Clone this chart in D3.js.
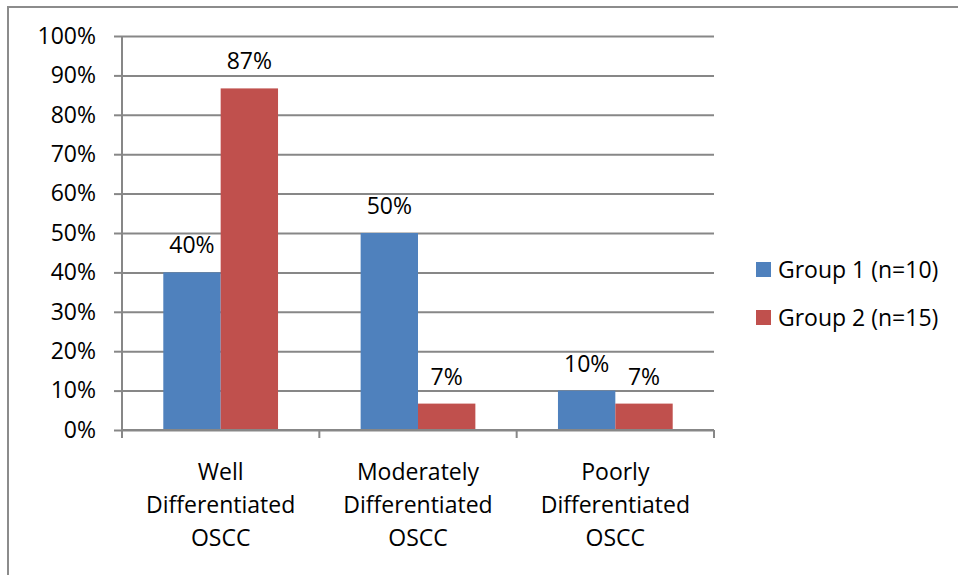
<!DOCTYPE html>
<html>
<head>
<meta charset="utf-8">
<script src="https://cdn.jsdelivr.net/npm/d3@7"></script>
<style>
  html, body { margin: 0; padding: 0; background: #fff; }
  svg { display: block; font-family: "Open Sans", sans-serif; }
</style>
</head>
<body>
<svg id="chart" width="958" height="575"></svg>
<script>
// Chart data
const categories = [
  ["Well", "Differentiated", "OSCC"],
  ["Moderately", "Differentiated", "OSCC"],
  ["Poorly", "Differentiated", "OSCC"]
];
const seriesNames = ["Group 1 (n=10)", "Group 2 (n=15)"];
const group1 = [0.40, 0.50, 0.10];
const group2 = [0.867, 0.067, 0.067];
const yTicks = [0, 0.1, 0.2, 0.3, 0.4, 0.5, 0.6, 0.7, 0.8, 0.9, 1.0];
const colors = ["#4F81BD", "#C0504D"];

const svg = d3.select("#chart");
const W = 958, H = 575;
const plot = { left: 122, right: 714, top: 36, bottom: 430 };
const gridColor = "#878787";
const fontSize = 23;

// Outer frame
svg.append("rect")
  .attr("x", 8).attr("y", 7)
  .attr("width", W + 10).attr("height", H + 10)
  .attr("fill", "#fff")
  .attr("stroke", "#8c8c8c").attr("stroke-width", 2);

const x0 = d3.scaleBand()
  .domain(d3.range(categories.length))
  .range([plot.left, plot.right]);
const x1 = d3.scaleBand()
  .domain(d3.range(seriesNames.length))
  .range([0, x0.bandwidth()])
  .paddingInner(0)
  .paddingOuter(0.72);
const y = d3.scaleLinear().domain([0, 1]).range([plot.bottom, plot.top]);

// Horizontal gridlines with left tick marks and labels
const yAxis = d3.axisLeft(y)
  .tickValues(yTicks)
  .tickFormat(d3.format(".0%"))
  .tickSize(8)
  .tickPadding(18);
const yg = svg.append("g").attr("transform", `translate(${plot.left},0)`).call(yAxis);
yg.select(".domain").attr("stroke", gridColor).attr("stroke-width", 2)
  .attr("d", `M0,${plot.top}V${plot.bottom}`);
yg.selectAll(".tick line").attr("stroke", gridColor).attr("stroke-width", 2);
yg.selectAll(".tick text")
  .attr("font-size", fontSize).attr("fill", "#000")
  .attr("font-family", "Open Sans, sans-serif");
yg.selectAll(".tick").append("line")
  .attr("x1", 0).attr("x2", plot.right - plot.left)
  .attr("stroke", gridColor).attr("stroke-width", 2);

// Category tick marks at band boundaries
const bounds = categories.map((c, i) => x0(i)).concat([x0(categories.length - 1) + x0.bandwidth()]);
svg.append("g").selectAll("line").data(bounds).join("line")
  .attr("x1", d => d).attr("x2", d => d)
  .attr("y1", plot.bottom).attr("y2", plot.bottom + 8)
  .attr("stroke", gridColor).attr("stroke-width", 2);

// Bars
const rows = categories.map((c, i) => [group1[i], group2[i]]);
const groups = svg.append("g").selectAll("g").data(rows).join("g")
  .attr("transform", (d, i) => `translate(${x0(i)},0)`);
groups.selectAll("rect").data(d => d).join("rect")
  .attr("x", (d, j) => x1(j))
  .attr("width", x1.bandwidth())
  .attr("y", d => y(d))
  .attr("height", d => y(0) - y(d))
  .attr("fill", (d, j) => colors[j]);

// Value labels
groups.selectAll("text").data(d => d).join("text")
  .attr("x", (d, j) => x1(j) + x1.bandwidth() / 2)
  .attr("y", d => y(d) - 19)
  .attr("text-anchor", "middle")
  .attr("font-size", fontSize)
  .text(d => d3.format(".0%")(d));

// Redraw baseline over bars
svg.append("line")
  .attr("x1", plot.left).attr("x2", plot.right)
  .attr("y1", plot.bottom).attr("y2", plot.bottom)
  .attr("stroke", gridColor).attr("stroke-width", 2);

// Category labels
svg.append("g").selectAll("text").data(categories).join("text")
  .attr("text-anchor", "middle")
  .attr("font-size", fontSize)
  .attr("transform", (d, i) => `translate(${x0(i) + x0.bandwidth() / 2},0)`)
  .each(function (lines) {
    d3.select(this).selectAll("tspan").data(lines).join("tspan")
      .attr("x", 0)
      .attr("y", (l, k) => 480 + k * 33)
      .text(l => l);
  });

// Legend
const legend = svg.append("g").selectAll("g").data(seriesNames).join("g")
  .attr("transform", (d, i) => `translate(756,${262 + i * 48})`);
legend.append("rect")
  .attr("width", 15).attr("height", 15)
  .attr("fill", (d, i) => colors[i]);
legend.append("text")
  .attr("x", 22).attr("y", 16)
  .attr("font-size", fontSize)
  .text(d => d);
</script>
</body>
</html>
